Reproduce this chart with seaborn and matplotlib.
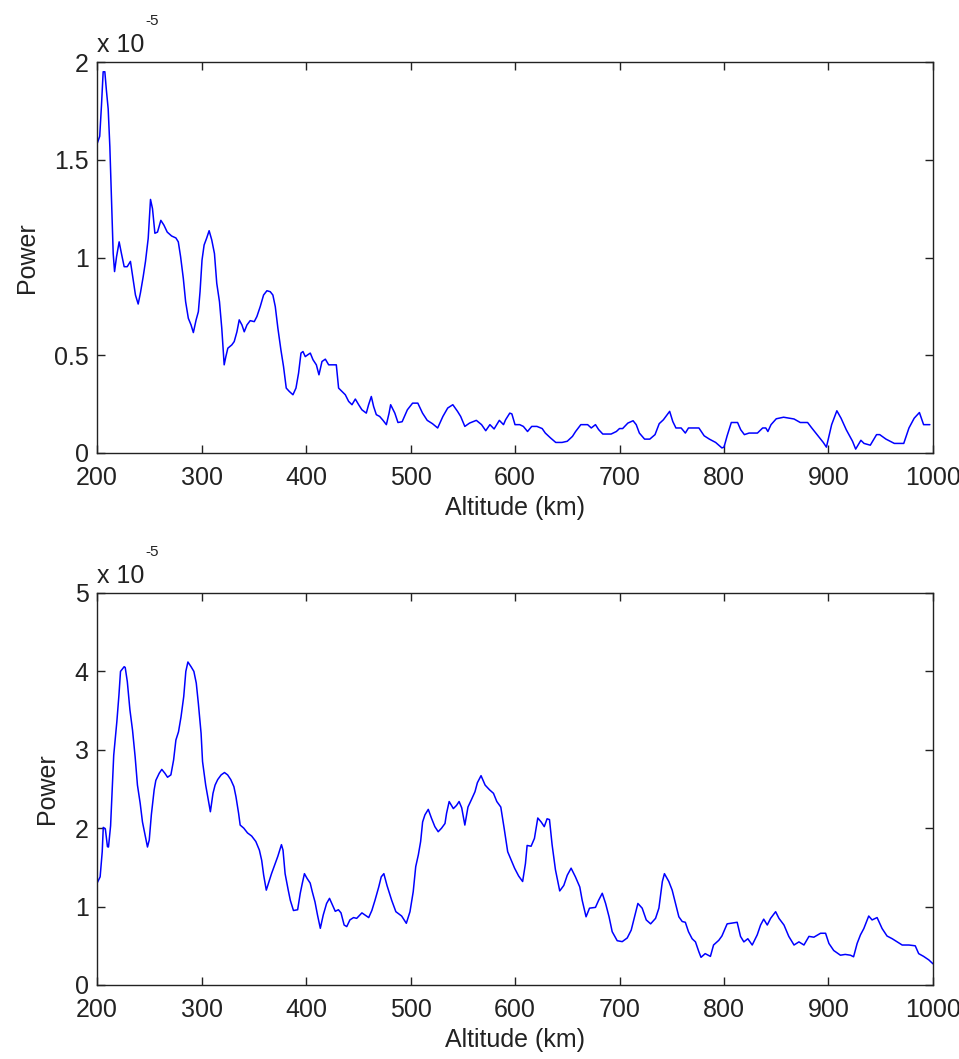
import numpy as np
import pandas as pd
import matplotlib
matplotlib.use("Agg")
import matplotlib.pyplot as plt
import matplotlib.transforms as mtransforms
import seaborn as sns

SCALE = 1e-5

top_altitude = [200, 202.6, 204.3, 205.9, 207.5, 209, 210.7, 212.3, 213.9, 215.5, 216.8, 218.7, 221.2, 223.4,
                226, 228.9, 232, 234.6, 236.8, 239.4, 241.6, 244.2, 246.4, 249, 251.2, 253.1, 255.4, 257.9,
                261.1, 264, 267.2, 271.4, 275.5, 277.8, 280, 282.6, 284.8, 287.4, 290, 292.2, 294.8, 297,
                298.6, 300.5, 302.5, 305, 307.3, 309.8, 312.4, 314.6, 317.2, 319.4, 321.7, 323.3, 325.2, 329,
                331.3, 333.9, 336.1, 338.7, 340.9, 343.5, 346.6, 350.5, 353, 356.2, 359.4, 362.6, 365.8, 368.3,
                370.6, 373.1, 376, 378.5, 381.1, 384, 387.5, 390.4, 392.9, 395.2, 397.1, 399.3, 401.6, 404.1,
                406.7, 409.9, 412.4, 415.3, 418.5, 421.7, 426.5, 429, 431.2, 434.4, 437.6, 440.8, 444, 447.2,
                450.4, 453.5, 457.7, 459.9, 462.5, 464.7, 467.3, 470.5, 473.7, 476.9, 479.5, 481, 485, 488,
                492, 497, 502, 507, 511.5, 516, 521, 526, 531, 535.6, 540.5, 545, 548, 552, 556.5, 563, 568,
                572, 576, 580, 585, 589, 591, 595, 597, 600, 604.5, 608, 612, 616, 621, 626, 629, 634, 639,
                645, 650, 655, 658, 663, 669.5, 673, 677, 680, 684, 692, 697, 700, 703, 708, 713, 716, 719,
                724, 729, 734, 738, 742, 748, 751, 754, 759, 763, 766, 771, 776, 781, 786, 792, 798, 800, 803,
                807, 813, 816, 819.5, 824, 832, 837, 840, 842, 845, 850, 857, 867, 873, 880, 884, 889, 895,
                898, 903, 908, 912, 917, 923, 926, 931, 934, 940, 946, 949, 955, 963, 972, 977, 982, 987,
                991, 997]
top_power = [1.58, 1.62, 1.78, 1.95, 1.95, 1.855, 1.76, 1.566, 1.294, 1.02, 0.928, 1.004, 1.08, 1.02,
             0.953, 0.953, 0.98, 0.885, 0.808, 0.762, 0.82, 0.902, 0.98, 1.098, 1.297, 1.25, 1.124, 1.13,
             1.19, 1.166, 1.13, 1.11, 1.10, 1.08, 1.004, 0.893, 0.774, 0.689, 0.655, 0.616, 0.68, 0.723,
             0.825, 0.987, 1.064, 1.10, 1.137, 1.09, 1.02, 0.868, 0.774, 0.638, 0.451, 0.493, 0.536, 0.553,
             0.57, 0.62, 0.681, 0.655, 0.62, 0.655, 0.677, 0.672, 0.698, 0.749, 0.808, 0.83, 0.825, 0.808,
             0.749, 0.638, 0.527, 0.442, 0.332, 0.315, 0.298, 0.332, 0.409, 0.511, 0.519, 0.493, 0.502, 0.511,
             0.477, 0.451, 0.40, 0.468, 0.48, 0.451, 0.451, 0.451, 0.332, 0.315, 0.298, 0.264, 0.247, 0.276,
             0.247, 0.221, 0.204, 0.247, 0.289, 0.238, 0.196, 0.187, 0.167, 0.145, 0.204, 0.247, 0.204, 0.156,
             0.16, 0.221, 0.255, 0.255, 0.204, 0.167, 0.15, 0.128, 0.187, 0.23, 0.247, 0.213, 0.187, 0.136,
             0.153, 0.167, 0.145, 0.114, 0.145, 0.123, 0.167, 0.145, 0.17, 0.204, 0.2, 0.145, 0.145, 0.136,
             0.11, 0.136, 0.136, 0.125, 0.102, 0.077, 0.054, 0.054, 0.06, 0.085, 0.11, 0.145, 0.145, 0.128,
             0.145, 0.12, 0.097, 0.097, 0.11, 0.125, 0.125, 0.153, 0.165, 0.145, 0.102, 0.071, 0.071, 0.094,
             0.15, 0.17, 0.213, 0.161, 0.128, 0.128, 0.102, 0.128, 0.128, 0.128, 0.088, 0.071, 0.054, 0.026,
             0.03, 0.088, 0.156, 0.156, 0.119, 0.094, 0.102, 0.102, 0.128, 0.128, 0.11, 0.145, 0.175, 0.183,
             0.174, 0.156, 0.156, 0.128, 0.094, 0.054, 0.03, 0.145, 0.216, 0.178, 0.119, 0.06, 0.02, 0.065,
             0.049, 0.04, 0.094, 0.094, 0.071, 0.049, 0.049, 0.128, 0.178, 0.207, 0.145, 0.145]

bottom_altitude = [200, 203, 205, 206, 208, 210, 211, 213, 214.5, 216, 219, 221, 222.5, 226, 227, 229, 231.5,
                   234, 236.5, 238.7, 241.3, 243.5, 246, 248.3, 250, 252, 254.7, 256.3, 259.5, 262, 265,
                   267.5, 270.7, 273.3, 275.5, 278, 280.4, 283, 285, 287, 290, 292.7, 295, 297, 299.6, 301,
                   304, 306, 308.5, 311, 313, 315.5, 318.8, 322, 325, 328, 331, 333, 335.5, 337, 340.5, 344,
                   348, 352, 355.4, 357.6, 359.5, 362, 364.6, 367, 370, 373, 376.5, 378, 380, 383, 385, 388,
                   392, 394.5, 396.5, 398.5, 401, 404, 406, 408.6, 411, 413.7, 416.5, 419.7, 422.5, 425.3,
                   428, 431, 433.5, 436.5, 439, 442, 445.5, 448.5, 453.5, 456.7, 460, 463, 466, 469.6, 472,
                   474.5, 477.5, 482, 486, 491.5, 496, 499.5, 502.6, 505, 507.5, 509.7, 511.6, 513.8, 517,
                   520, 523.3, 526.5, 529.7, 533, 534.5, 537, 541, 544, 546.5, 549, 552, 555, 558.5, 561.7,
                   564, 567.5, 571.4, 575.6, 579.4, 582.6, 586.4, 589.6, 593, 596.5, 599.6, 603.5, 607.3,
                   610, 611.6, 615.4, 618.6, 621.8, 625, 628, 630.7, 633, 635.5, 638.7, 642.8, 646.7, 650,
                   653.7, 657.8, 662, 664.3, 668, 671.3, 677, 680, 683.5, 686.7, 690, 693, 697.8, 702.6,
                   707.4, 711.2, 714.4, 717.6, 721.7, 725.6, 729.8, 734.5, 737.7, 741, 743, 747.2, 750.4,
                   753.6, 756.8, 760, 763, 766, 769.5, 772.7, 775.9, 778, 782, 787, 790, 795, 798, 803, 808,
                   812.6, 815.8, 819, 822.8, 827, 831.8, 835, 838, 841.4, 844.6, 849.4, 852.6, 857.4, 862,
                   867, 871.7, 876.5, 881.3, 886, 892.4, 897.2, 900.4, 905, 911.4, 916, 921, 924, 927.4,
                   930.6, 933.8, 938.5, 941.7, 946.5, 951.3, 956, 961, 965.8, 970.5, 977, 983, 986.3, 991,
                   996, 1000]
bottom_power = [1.297, 1.38, 1.70, 2.01, 1.99, 1.764, 1.76, 2.03, 2.487, 2.93, 3.36, 3.70, 4.0, 4.06, 4.05,
                3.87, 3.51, 3.25, 2.91, 2.55, 2.32, 2.08, 1.91, 1.76, 1.85, 2.17, 2.49, 2.61, 2.70, 2.75,
                2.70, 2.65, 2.68, 2.87, 3.125, 3.23, 3.42, 3.68, 4.0, 4.12, 4.06, 4.0, 3.85, 3.59, 3.21,
                2.85, 2.55, 2.40, 2.21, 2.445, 2.55, 2.62, 2.68, 2.71, 2.68, 2.62, 2.53, 2.40, 2.19, 2.04,
                2.0, 1.94, 1.90, 1.83, 1.72, 1.59, 1.40, 1.21, 1.32, 1.42, 1.53, 1.64, 1.79, 1.72, 1.42,
                1.21, 1.08, 0.95, 0.96, 1.17, 1.30, 1.42, 1.36, 1.30, 1.19, 1.06, 0.893, 0.723, 0.893, 1.04,
                1.105, 1.02, 0.94, 0.96, 0.92, 0.765, 0.745, 0.83, 0.86, 0.85, 0.92, 0.89, 0.86, 0.95, 1.08,
                1.25, 1.38, 1.42, 1.27, 1.08, 0.935, 0.88, 0.787, 0.935, 1.19, 1.51, 1.66, 1.83, 2.08, 2.17,
                2.24, 2.13, 2.02, 1.955, 2.0, 2.06, 2.19, 2.34, 2.25, 2.29, 2.34, 2.26, 2.04, 2.27, 2.37,
                2.465, 2.58, 2.67, 2.55, 2.49, 2.445, 2.34, 2.27, 2.0, 1.70, 1.59, 1.49, 1.39, 1.32, 1.55,
                1.78, 1.77, 1.87, 2.13, 2.08, 2.02, 2.12, 2.11, 1.79, 1.47, 1.20, 1.27, 1.40, 1.49, 1.38,
                1.25, 1.08, 0.87, 0.98, 0.99, 1.08, 1.17, 1.04, 0.87, 0.68, 0.565, 0.553, 0.60, 0.70, 0.87,
                1.04, 0.98, 0.83, 0.78, 0.85, 0.98, 1.32, 1.42, 1.32, 1.21, 1.04, 0.87, 0.81, 0.80, 0.68,
                0.59, 0.55, 0.425, 0.353, 0.40, 0.365, 0.51, 0.57, 0.625, 0.78, 0.79, 0.80, 0.62, 0.55, 0.59,
                0.51, 0.64, 0.765, 0.84, 0.765, 0.85, 0.935, 0.85, 0.765, 0.62, 0.51, 0.55, 0.51, 0.62, 0.61,
                0.66, 0.66, 0.53, 0.44, 0.38, 0.39, 0.38, 0.36, 0.53, 0.64, 0.72, 0.88, 0.83, 0.86, 0.72,
                0.625, 0.59, 0.55, 0.51, 0.51, 0.50, 0.40, 0.365, 0.32, 0.27]

x_ticks = [200, 300, 400, 500, 600, 700, 800, 900, 1000]
top_y_ticks = [0, 0.5, 1, 1.5, 2]
top_y_labels = ["0", "0.5", "1", "1.5", "2"]
bottom_y_ticks = [0, 1, 2, 3, 4, 5]
bottom_y_labels = ["0", "1", "2", "3", "4", "5"]

sns.set_style("ticks")
plt.rcParams["font.family"] = ["Liberation Sans", "DejaVu Sans"]
plt.rcParams["font.size"] = 18

fig = plt.figure(figsize=(9.59, 10.59), dpi=100)
W, H = 959, 1059
ax_top = fig.add_axes([97 / W, 1 - 453 / H, 836 / W, 391 / H])
ax_bot = fig.add_axes([97 / W, 1 - 985 / H, 836 / W, 392 / H])

panels = [
    (ax_top, top_altitude, top_power, top_y_ticks, top_y_labels, 2),
    (ax_bot, bottom_altitude, bottom_power, bottom_y_ticks, bottom_y_labels, 5),
]

for ax, alt, pw, yt, yl, ymax in panels:
    df = pd.DataFrame({"Altitude": alt, "Power": np.array(pw) * SCALE})
    sns.lineplot(data=df, x="Altitude", y="Power", ax=ax, color="#0000ff", linewidth=1.1,
                 estimator=None, sort=False)
    ax.set_xlim(200, 1000)
    ax.set_ylim(0, ymax * SCALE)
    ax.set_xticks(x_ticks)
    ax.set_xticklabels([str(t) for t in x_ticks])
    ax.set_yticks([v * SCALE for v in yt])
    ax.set_yticklabels(yl)
    ax.tick_params(direction="in", length=6, width=1, top=True, right=True,
                   labelsize=18, colors="#222222", labelcolor="#222222")
    ax.tick_params(axis="x", pad=9.5)
    ax.tick_params(axis="y", pad=6)
    for s in ax.spines.values():
        s.set_visible(True)
        s.set_color("#222222")
        s.set_linewidth(1.0)
    ax.set_xlabel("Altitude (km)", fontsize=18, labelpad=4, color="#222222")
    ax.set_ylabel("Power", fontsize=18, labelpad=11, color="#222222")
    tr1 = mtransforms.offset_copy(ax.transAxes, fig=fig, x=0, y=10, units="dots")
    ax.text(0, 1, "x 10", transform=tr1, fontsize=18, ha="left", va="baseline", color="#222222")
    tr2 = mtransforms.offset_copy(ax.transAxes, fig=fig, x=48, y=37, units="dots")
    ax.text(0, 1, "-5", transform=tr2, fontsize=11, ha="left", va="baseline", color="#222222")

fig.savefig("out.png", dpi=100)
